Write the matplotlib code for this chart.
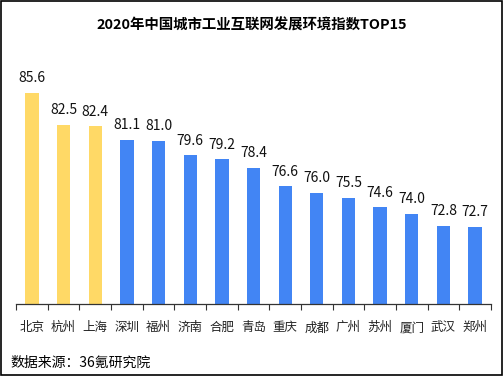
import matplotlib
matplotlib.use("Agg")
import matplotlib.pyplot as plt
import numpy as np
from matplotlib.patches import Rectangle

plt.rcParams['font.family'] = ['Noto Sans CJK SC', 'DejaVu Sans']

cities = ["北京", "杭州", "上海", "深圳", "福州", "济南", "合肥", "青岛",
          "重庆", "成都", "广州", "苏州", "厦门", "武汉", "郑州"]
values = [85.6, 82.5, 82.4, 81.1, 81.0, 79.6, 79.2, 78.4,
          76.6, 76.0, 75.5, 74.6, 74.0, 72.8, 72.7]
top_n = 3

yellow = "#FFD966"
blue = "#4285F4"
colors = [yellow if i < top_n else blue for i in range(len(values))]

fig = plt.figure(figsize=(5.04, 3.76), dpi=100)
ax = fig.add_axes([0.032, 0.1915, 0.942, 0.65])

x = np.arange(len(cities))
ax.bar(x, values, width=0.42, color=colors, zorder=2)
for xi, v in zip(x, values):
    ax.annotate(f"{v:.1f}", (xi, v), xytext=(0, 5.5), textcoords="offset points",
                ha="center", va="bottom", fontsize=10, color="#111111")

ax.set_xlim(-0.5, len(cities) - 0.5)
ax.set_ylim(65.3, 88.8)
ax.set_yticks([])
ax.set_xticks(x)
ax.set_xticklabels(cities, fontsize=9, color="#222222")
ax.set_xticks(np.arange(-0.5, len(cities)), minor=True)
ax.tick_params(axis="x", which="major", length=0, pad=12.5)
ax.tick_params(axis="x", which="minor", length=4, width=0.8, color="#333333", direction="out")
for s in ["top", "right", "left"]:
    ax.spines[s].set_visible(False)
ax.spines["bottom"].set_color("#333333")
ax.spines["bottom"].set_linewidth(0.9)

fig.text(0.5, 0.933, "2020年中国城市工业互联网发展环境指数TOP15",
         ha="center", va="center", fontsize=10.4, fontweight="bold")
fig.text(0.02, 0.035, "数据来源：36氪研究院", ha="left", va="center", fontsize=10)

fig.patches.append(Rectangle((0.002, 0.003), 0.995, 0.994, transform=fig.transFigure,
                             fill=False, edgecolor="black", linewidth=1.2))

fig.savefig("out.png", dpi=100)
